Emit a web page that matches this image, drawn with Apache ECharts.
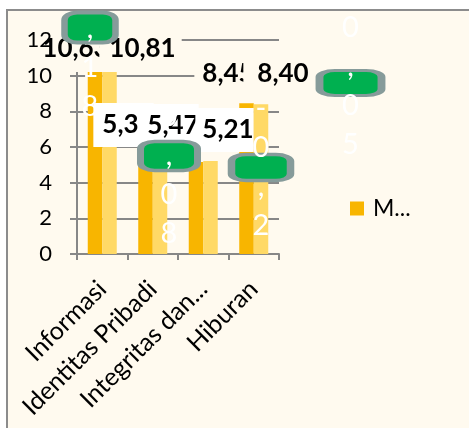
<!DOCTYPE html>
<html><head><meta charset="utf-8">
<script src="https://cdn.jsdelivr.net/npm/echarts@6/dist/echarts.min.js"></script>
<style>
html,body{margin:0;padding:0;background:#fff;overflow:hidden;}
#frame{position:absolute;left:6px;top:9px;width:480px;height:440px;background:#FFFAEF;border-left:2px solid #8C8C8C;border-top:2px solid #8C8C8C;box-sizing:border-box;}
#chart{position:absolute;left:0;top:0;width:469px;height:428px;}
</style></head>
<body><div id="frame"></div><div id="chart"></div>
<script>
const categories = ['Informasi', 'Identitas Pribadi', 'Integritas dan...', 'Hiburan'];
const seriesNames = ['M...', 'Seri 2', 'Selisih'];
const darkValues = [10.63, 5.39, 5.16, 8.45];
const lightValues = [10.81, 5.47, 5.21, 8.40];
const diffValues = [0.18, 0.08, 0.05, -0.2];
const yTickLabels = ['0', '2', '4', '6', '8', '10', '12'];

const FONT = 'Lato';
const CREAM = '#FFFAEF';
const GRAY = '#878787';

function fmt2(v) { return v.toFixed(2).replace('.', ','); }
function fmtDiff(v) { return String(v).replace('.', ','); }

// label placement (styles / offsets only)
const darkLabelCfg = [
  { offset: [-28.75, -15.9], padding: [10.5, 0, 10.5, 4], bg: CREAM },
  { offset: [-29.25, -32.9], padding: [11, 0, 7, 9], bg: '#FFFFFF' },
  null,
  { offset: [-29.75, -29.3], padding: [3, 0, 3, 8], bg: CREAM }
];
const lightLabelCfg = [
  { offset: [38.25, -12.7], padding: [10.5, 6, 10.5, 10], bg: CREAM },
  { offset: [15.75, -30.5], padding: [11, 0, 7, 9], bg: '#FFFFFF' },
  { offset: [21.25, -31.1], padding: [11, 0, 7, 7], bg: '#FFFFFF' },
  { offset: [24.75, -30.2], padding: [3, 5, 3, 14], bg: CREAM }
];
const diffBoxCfg = [
  { size: [51, 30], offset: [-12.25, -33.7], text: [-12.25, -12.7] },
  { size: [57, 29], offset: [16.25, -0.5], text: [16.25, 19] },
  { size: [62, 25], offset: [147.25, -78.1], text: [147.25, -74.5] },
  { size: [59, 26], offset: [7.25, 63.3], text: [7.25, 63.3] }
];

function numLabel(values, cfgs) {
  return values.map((v, i) => {
    const c = cfgs[i];
    if (!c) return { value: [i, v], label: { show: false } };
    return {
      value: [i, v],
      label: {
        show: true, position: 'inside', offset: c.offset,
        formatter: fmt2(v), opacity: 1,
        fontFamily: FONT, fontWeight: 'bold', fontSize: 26, lineHeight: 26,
        color: '#000', backgroundColor: c.bg, padding: c.padding
      }
    };
  });
}

const labelData = numLabel(darkValues, darkLabelCfg).concat(numLabel(lightValues, lightLabelCfg));

const boxData = diffValues.map((v, i) => ({
  value: [i, lightValues[i]],
  symbolSize: diffBoxCfg[i].size,
  symbolOffset: diffBoxCfg[i].offset
}));
const diffTextData = diffValues.map((v, i) => ({
  value: [i, lightValues[i]],
  label: {
    show: true, position: 'inside', offset: diffBoxCfg[i].text, opacity: 1,
    formatter: fmtDiff(v).split('').join('\n'),
    fontFamily: FONT, fontSize: 29, lineHeight: 39, color: '#FFFFFF'
  }
}));

const chart = echarts.init(document.getElementById('chart'), null, { renderer: 'canvas' });
chart.setOption({
  backgroundColor: 'transparent',
  animation: false,
  textStyle: { fontFamily: FONT },
  grid: { left: 77, top: 40, width: 202, height: 214, containLabel: false },
  legend: {
    data: [{ name: seriesNames[0], icon: 'rect' }],
    left: 350, top: 197, padding: 0, itemWidth: 14, itemHeight: 14,
    textStyle: { fontFamily: FONT, fontSize: 23, color: '#000', padding: [0, 0, 0, 4] }
  },
  xAxis: {
    type: 'category', data: categories,
    axisLine: { show: true, lineStyle: { color: GRAY, width: 2 } },
    axisTick: { show: true, length: 6, lineStyle: { color: GRAY, width: 2 } },
    axisLabel: { rotate: 45, interval: 0, fontFamily: FONT, fontSize: 25, color: '#000', margin: 31 },
    splitLine: { show: false }
  },
  yAxis: [
    {
      type: 'value', min: 0, max: 12, interval: 2,
      axisLine: { show: true, lineStyle: { color: GRAY, width: 2 } },
      axisTick: { show: true, length: 7, lineStyle: { color: GRAY, width: 2 } },
      axisLabel: { show: false },
      splitLine: { show: true, lineStyle: { color: GRAY, width: 2 } }
    },
    {
      type: 'value', min: 0, max: 12, interval: 2, position: 'left', z: 20,
      axisLine: { show: false }, axisTick: { show: false }, splitLine: { show: false },
      axisLabel: { show: true, margin: 25, fontFamily: FONT, fontSize: 22, color: '#000',
        formatter: (v) => yTickLabels[Math.round(v / 2)] }
    }
  ],
  series: [
    { name: seriesNames[0], type: 'bar', data: darkValues, barWidth: 14.5, barGap: '0%',
      itemStyle: { color: '#F8B500' }, z: 2 },
    { name: seriesNames[1], type: 'bar', data: lightValues, barWidth: 14.5, barGap: '0%',
      itemStyle: { color: '#FFD966' }, z: 2 },
    { name: 'labels', type: 'scatter', data: labelData, symbol: 'circle', symbolSize: 1,
      itemStyle: { color: 'rgba(0,0,0,0)', opacity: 1 }, emphasis: { disabled: true },
      z: 5, clip: false, silent: true },
    { name: seriesNames[2], type: 'scatter', data: boxData, symbol: 'roundRect',
      itemStyle: { color: '#00B050', borderColor: '#869B9A', borderWidth: 5, opacity: 1 },
      emphasis: { disabled: true },
      label: { show: false }, z: 6, clip: false, silent: true },
    { name: 'diffText', type: 'scatter', data: diffTextData, symbol: 'circle', symbolSize: 1,
      itemStyle: { color: 'rgba(0,0,0,0)', opacity: 1 }, emphasis: { disabled: true },
      z: 7, clip: false, silent: true }
  ]
});
</script>
</body></html>
